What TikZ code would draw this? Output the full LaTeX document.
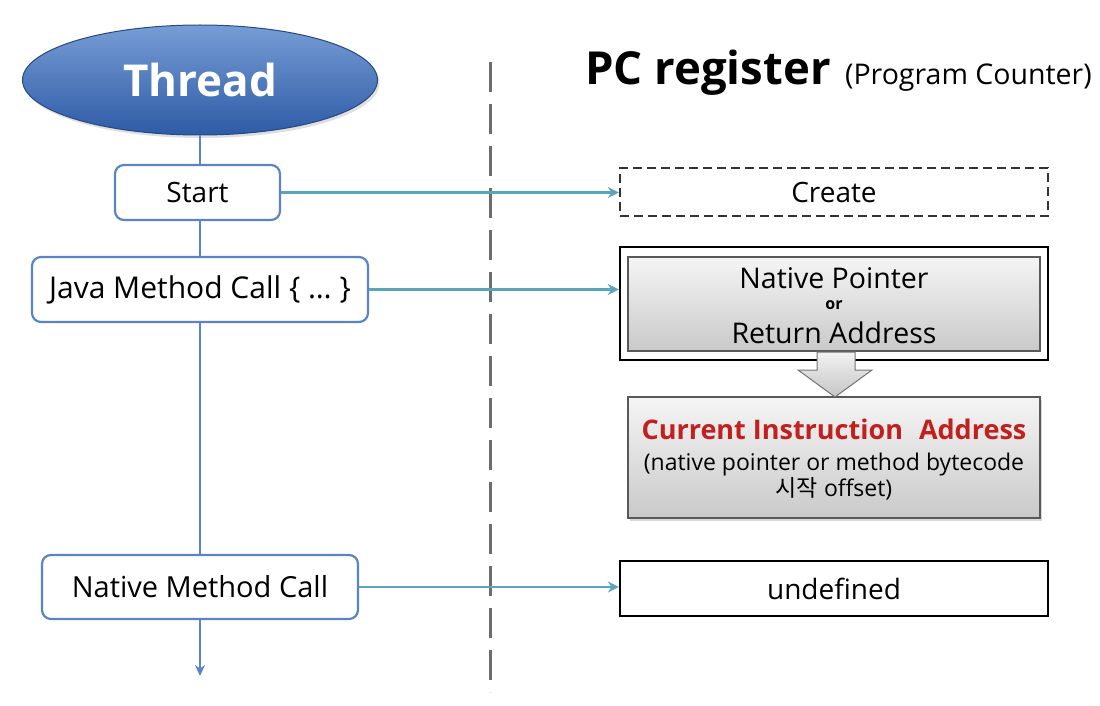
\documentclass[tikz,border=0pt]{standalone}
\usepackage{fontspec}
\setmainfont{Open Sans}
\newfontfamily\kr{Noto Sans CJK KR}
\usetikzlibrary{shapes.geometric,arrows.meta,shadows}
\definecolor{thrblue}{HTML}{4A7CC7}
\definecolor{thrdark}{HTML}{2E5BA6}
\definecolor{boxblue}{HTML}{5A84C4}
\definecolor{conncol}{HTML}{5AA4BE}
\definecolor{redtxt}{HTML}{C0201E}
\tikzset{
  flowbox/.style={draw=boxblue, line width=2.2pt, rounded corners=9pt, fill=white, font=\fontsize{29}{32}\selectfont, inner sep=0pt},
  conn/.style={draw=conncol, line width=2.6pt, -{Stealth[length=11pt,width=11pt]}},
  thrline/.style={draw=boxblue, line width=2.4pt},
  regbox/.style={draw=black, line width=2.2pt, fill=white, font=\fontsize{28}{30}\selectfont, inner sep=0pt},
  graybox/.style={draw=black!65, line width=1.6pt, top color=gray!8, bottom color=gray!42, inner sep=0pt},
}
\begin{document}
\begin{tikzpicture}[x=1pt,y=-1pt]
\useasboundingbox (0,0) rectangle (1100,706);
% dashed separator
\draw[gray!85!black, line width=3pt, dash pattern=on 30pt off 12pt] (490,62) -- (490,692);
% thread
\node[ellipse, minimum width=355pt, minimum height=110pt, top color=thrblue!75!white, bottom color=thrdark, draw=thrdark!80!black, line width=1pt, text=white, font=\bfseries\fontsize{44}{50}\selectfont, drop shadow={opacity=0.25, shadow xshift=2pt, shadow yshift=-3pt}] (thread) at (200,80) {Thread};
\node[flowbox, minimum width=165pt, minimum height=55pt, font=\fontsize{28}{30}\selectfont] (start) at (197.5,192.5) {Start};
\node[flowbox, minimum width=336pt, minimum height=65pt, font=\fontsize{30}{32}\selectfont] (java) at (200,289.5) {Java Method Call \{ … \}};
\node[flowbox, minimum width=316pt, minimum height=64pt] (nmc) at (200,587) {Native Method Call};
\coordinate (tend) at (200,676);
\draw[thrline] (thread.south) -- (thread.south |- start.north);
\draw[thrline] (thread.south |- start.south) -- (thread.south |- java.north);
\draw[thrline] (java.south) -- (nmc.north);
\draw[thrline, -{Stealth[length=11pt,width=10pt]}] (nmc.south) -- (tend);
% title
\node[anchor=base west, font=\bfseries\fontsize{45.5}{50}\selectfont, inner sep=0pt] (title) at (585,85) {PC register};
\node[anchor=base west, font=\fontsize{28.5}{30}\selectfont, inner sep=0pt] (subtitle) at ([xshift=14pt]title.base east) {(Program Counter)};
% create
\node[draw=black!80, line width=2.2pt, dash pattern=on 9pt off 5pt, minimum width=428pt, minimum height=48pt, font=\fontsize{28}{30}\selectfont, inner sep=0pt] (create) at (834,192) {Create};
% native pointer box
\node[draw=black, line width=2.4pt, fill=white, minimum width=428pt, minimum height=113pt] (npo) at (834,303.5) {};
\node[graybox, minimum width=412pt, minimum height=94pt, align=center] (npi) at (834,304) {};
\node[font=\fontsize{28.5}{30}\selectfont, inner sep=0pt] (np1) at (834,278) {Native Pointer};
\node[font=\bfseries\fontsize{16}{17}\selectfont, inner sep=0pt] (npor) at (834,305) {or};
\node[font=\fontsize{28.5}{30}\selectfont, inner sep=0pt] (np2) at (834,333) {Return Address};
% current instruction
\node[graybox, minimum width=412pt, minimum height=121pt, drop shadow={opacity=0.3, shadow xshift=2pt, shadow yshift=-3pt}] (cia) at (834,457.5) {};
\node[font=\bfseries\fontsize{27}{30}\selectfont, text=redtxt, inner sep=0pt] (cia1) at (834,429) {Current Instruction\,\, Address};
\node[font=\fontsize{23}{27}\selectfont, inner sep=0pt, align=center] (cia2) at (834,477) {(native pointer or method bytecode\\[-1pt]{\kr 시작} offset)};
% block arrow
\draw[draw=black!55, line width=1pt, top color=gray!10, bottom color=gray!45] (817,352) -- (855,352) -- (855,370) -- (872,370) -- (835,397) -- (798,370) -- (817,370) -- cycle;
% undefined
\node[regbox, minimum width=428pt, minimum height=55pt] (undef) at (834,588.5) {undefined};
% connectors
\draw[conn] (start.east) -- (start.east -| create.west);
\draw[conn] (java.east) -- (java.east -| npo.west);
\draw[conn] (nmc.east) -- (nmc.east -| undef.west);
\end{tikzpicture}
\end{document}
